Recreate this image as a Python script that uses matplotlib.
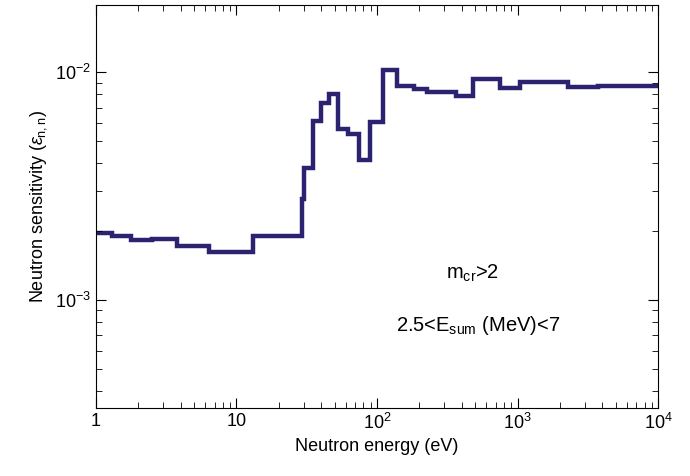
import numpy as np
import matplotlib
matplotlib.use('Agg')
import matplotlib.pyplot as plt

plt.rcParams['font.family'] = ['Liberation Sans', 'DejaVu Sans']
plt.rcParams['mathtext.fontset'] = 'custom'
plt.rcParams['mathtext.rm'] = 'Liberation Sans'
plt.rcParams['mathtext.it'] = 'Liberation Sans:italic'

# bin edges (eV) and sensitivity per bin
edges = [1, 1.31, 1.77, 2.49, 3.79, 6.40, 13.2, 29.3, 30.2, 34.9, 39.7, 45.5,
         52.5, 61.8, 74.1, 89.1, 111, 139, 183, 226, 365, 480, 750, 1040,
         2290, 3740, 10000]
sens = [1.97e-3, 1.91e-3, 1.83e-3, 1.85e-3, 1.73e-3, 1.63e-3, 1.91e-3, 2.79e-3,
        3.79e-3, 6.11e-3, 7.33e-3, 8.07e-3, 5.62e-3, 5.34e-3, 4.11e-3, 6.04e-3,
        1.02e-2, 8.71e-3, 8.42e-3, 8.20e-3, 7.87e-3, 9.38e-3, 8.5e-3, 9.1e-3,
        8.6e-3, 8.7e-3]

fig = plt.figure(figsize=(6.9, 4.76), dpi=100)
ax = fig.add_axes([0.139, 0.143, 0.815, 0.846])
ax.stairs(sens, edges, baseline=None, color='#2b2270', lw=3.2)
ax.set_xscale('log')
ax.set_yscale('log')
ax.set_xlim(1, 1e4)
ax.set_ylim(3.36e-4, 1.97e-2)
ax.set_xticks([1, 10, 100, 1000, 10000])
ax.set_xticklabels(['1', '10', r'10$^2$', r'10$^3$', r'10$^4$'])
ax.tick_params(which='both', direction='in', top=True, right=True, labelsize=13)
ax.tick_params(which='major', length=7)
ax.tick_params(which='minor', length=4)
ax.set_xlabel('Neutron energy (eV)', fontsize=13)
ax.set_ylabel(r'Neutron sensitivity ($\varepsilon_{\rm n,n}$)', fontsize=13)
ax.text(0.67, 0.32, r'm$_{\rm cr}$>2', transform=ax.transAxes, ha='center', fontsize=14.5)
ax.text(0.68, 0.19, r'2.5<E$_{\rm sum}$ (MeV)<7', transform=ax.transAxes, ha='center', fontsize=14.5)
fig.savefig('out.png')
